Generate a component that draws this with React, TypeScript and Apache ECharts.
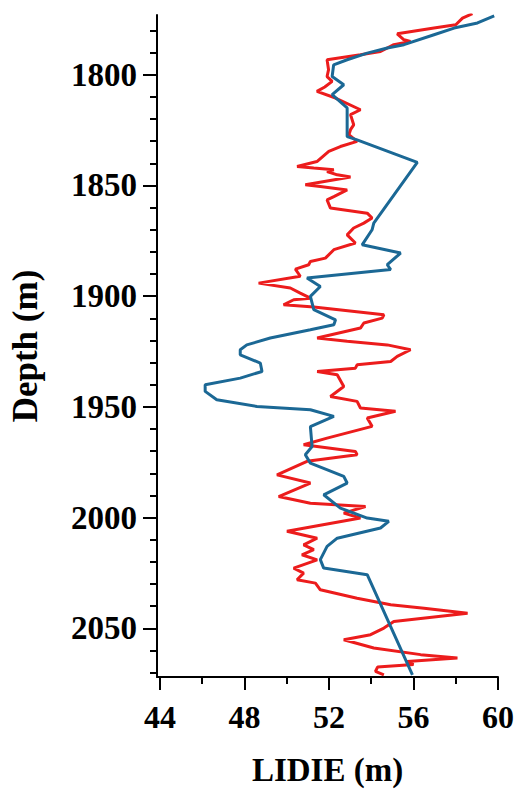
import React, { useEffect, useRef } from "react";
import * as echarts from "echarts";

const redDepth = [
  1772.4, 1774.4, 1777.4, 1778.9, 1781.5, 1784.2, 1784.9, 1786.4, 1789.5, 1791.0,
  1793.2, 1797.7, 1800.8, 1803.0, 1805.5, 1807.5, 1810.5, 1815.8, 1818.0, 1822.6,
  1824.8, 1827.1, 1830.1, 1832.4, 1834.6, 1839.2, 1841.4, 1842.1, 1842.9, 1843.7,
  1845.2, 1846.2, 1849.7, 1850.5, 1852.0, 1855.0, 1856.5, 1860.2, 1862.5, 1864.7,
  1867.0, 1869.2, 1872.3, 1876.0, 1879.0, 1882.8, 1884.3, 1885.8, 1887.8, 1891.0,
  1894.1, 1896.3, 1898.6, 1900.9, 1901.6, 1903.9, 1904.9, 1908.4, 1909.9, 1912.1,
  1914.4, 1918.9, 1920.4, 1922.0, 1924.2, 1927.2, 1929.5, 1931.0, 1932.5, 1934.0,
  1935.5, 1940.8, 1945.3, 1947.5, 1950.5, 1952.0, 1955.0, 1958.8, 1964.1, 1967.1,
  1970.1, 1971.6, 1974.6, 1980.7, 1984.4, 1990.5, 1993.5, 1995.0, 1998.0, 2000.2,
  2006.2, 2009.3, 2012.3, 2014.5, 2016.8, 2019.1, 2022.8, 2025.1, 2028.1, 2029.6,
  2032.6, 2036.4, 2039.4, 2040.9, 2043.2, 2046.9, 2049.9, 2052.9, 2055.2, 2058.9,
  2061.9, 2063.4, 2065.0, 2066.4, 2067.5, 2069.5, 2071.0,
];
const redLidie = [
  58.79, 58.32, 58.0, 56.97, 55.23, 55.55, 55.86, 55.07, 54.44, 53.49,
  51.91, 51.98, 51.91, 52.15, 51.8, 51.43, 52.31, 53.49, 53.02, 53.17,
  53.02, 52.94, 53.33, 52.54, 51.99, 51.43, 50.49, 51.28, 52.23, 51.91,
  52.39, 53.02, 50.88, 51.59, 52.86, 52.23, 51.91, 52.07, 53.81, 54.04,
  53.65, 53.17, 52.86, 53.25, 52.23, 51.83, 51.12, 51.04, 50.41, 50.64,
  48.67, 50.17, 50.64, 51.12, 50.33, 49.85, 51.28, 54.6, 54.52, 53.65,
  53.49, 51.44, 52.86, 54.76, 55.86, 55.23, 54.92, 53.33, 53.25, 51.44,
  52.39, 52.7, 52.07, 53.33, 53.49, 55.15, 53.81, 54.04, 51.91, 50.8,
  53.25, 53.33, 50.96, 49.54, 51.12, 49.62, 51.12, 53.73, 52.7, 53.49,
  50.01, 51.44, 50.8, 51.28, 50.72, 51.44, 50.33, 50.8, 50.49, 51.36,
  51.59, 53.33, 54.92, 56.5, 58.56, 55.07, 54.6, 53.97, 52.7, 54.12,
  56.34, 58.08, 55.7, 56.0, 54.3, 54.2, 54.6,
];

const blueDepth = [
  1773.4, 1776.6, 1778.9, 1781.9, 1786.4, 1787.9, 1790.2, 1793.2, 1795.5, 1800.8,
  1804.5, 1809.0, 1815.0, 1820.3, 1827.9, 1829.4, 1839.6, 1867.0, 1870.0, 1876.8,
  1880.5, 1885.8, 1888.0, 1891.8, 1895.6, 1900.1, 1906.1, 1910.7, 1912.9, 1915.2,
  1918.9, 1922.0, 1924.2, 1926.5, 1930.2, 1934.0, 1937.0, 1940.0, 1943.0, 1946.8,
  1949.8, 1951.3, 1954.3, 1958.9, 1967.9, 1971.6, 1975.4, 1981.4, 1984.4, 1989.7,
  1995.7, 2000.2, 2001.7, 2004.7, 2009.3, 2013.0, 2019.0, 2022.8, 2025.8, 2071.0,
];
const blueLidie = [
  59.82, 59.03, 57.92, 56.97, 55.55, 54.76, 53.81, 52.86, 52.22, 52.15,
  52.7, 52.15, 52.86, 52.86, 52.86, 53.33, 56.18, 54.12, 54.04, 53.57,
  55.39, 54.76, 54.92, 50.96, 51.59, 51.12, 51.28, 52.31, 52.23, 51.12,
  49.22, 48.11, 47.8, 47.8, 48.75, 48.83, 47.8, 46.14, 46.14, 46.69,
  48.59, 51.12, 52.23, 51.12, 51.2, 50.88, 51.12, 52.7, 52.86, 51.75,
  52.54, 53.81, 54.83, 54.44, 52.39, 51.91, 51.59, 51.75, 53.81, 55.95,
];

const xMajor = [44, 48, 52, 56, 60];
const xMinor = [46, 50, 54, 58];
const yMajor = [1800, 1850, 1900, 1950, 2000, 2050];
const yMinor = [1780, 1790, 1810, 1820, 1830, 1840, 1860, 1870, 1880, 1890, 1910, 1920, 1930, 1940, 1960, 1970, 1980, 1990, 2010, 2020, 2030, 2040, 2060, 2070];

const FONT = "'Liberation Serif', 'Times New Roman', serif";

export default function App() {
  const ref = useRef<HTMLDivElement>(null);
  useEffect(() => {
    if (!ref.current) return;
    const chart = echarts.init(ref.current, null, { renderer: "svg" });
    const xMin = 43.86, xMax = 60, yMin = 1773, yMax = 2072;
    const labelBase = { fontFamily: FONT, fontWeight: "bold" as const, color: "#000" };
    const tickLine = { color: "#000", width: 2 };
    const plain = (v: number) => String(v);
    chart.setOption({
      animation: false,
      backgroundColor: "#fff",
      grid: { left: 157, right: 22, top: 15, bottom: 114 },
      xAxis: [
        {
          type: "value", min: xMin, max: xMax, position: "bottom",
          axisLine: { onZero: false, lineStyle: { color: "#000", width: 2 } },
          axisTick: { length: 13, customValues: xMajor, lineStyle: tickLine },
          axisLabel: { customValues: xMajor, margin: 24, formatter: plain, fontSize: 32, ...labelBase },
          splitLine: { show: false },
          name: "LIDIE (m)", nameLocation: "middle", nameGap: 76,
          nameTextStyle: { fontFamily: FONT, fontWeight: "bold", fontSize: 33, color: "#000" },
        },
        {
          type: "value", min: xMin, max: xMax, position: "bottom",
          axisLine: { show: false, onZero: false },
          axisTick: { length: 7, customValues: xMinor, lineStyle: tickLine },
          axisLabel: { show: false },
          splitLine: { show: false },
        },
      ],
      yAxis: [
        {
          type: "value", inverse: true, min: yMin, max: yMax, position: "left",
          axisLine: { onZero: false, lineStyle: { color: "#000", width: 2 } },
          axisTick: { length: 14, customValues: yMajor, lineStyle: tickLine },
          axisLabel: { customValues: yMajor, margin: 20, formatter: plain, fontSize: 33, ...labelBase },
          splitLine: { show: false },
          name: "Depth (m)", nameLocation: "middle", nameGap: 114,
          nameTextStyle: { fontFamily: FONT, fontWeight: "bold", fontSize: 35, color: "#000" },
        },
        {
          type: "value", inverse: true, min: yMin, max: yMax, position: "left",
          axisLine: { show: false, onZero: false },
          axisTick: { length: 7, customValues: yMinor, lineStyle: tickLine },
          axisLabel: { show: false },
          splitLine: { show: false },
        },
      ],
      series: [
        {
          type: "line", xAxisIndex: 0, yAxisIndex: 0, showSymbol: false, symbol: "none",
          lineStyle: { color: "#ec1c1c", width: 3 },
          data: redDepth.map((d, i) => [redLidie[i], d]),
        },
        {
          type: "line", xAxisIndex: 0, yAxisIndex: 0, showSymbol: false, symbol: "none",
          lineStyle: { color: "#1b6895", width: 3 },
          data: blueDepth.map((d, i) => [blueLidie[i], d]),
        },
      ],
    });
    return () => chart.dispose();
  }, []);
  return (
    <div
      ref={ref}
      style={{ position: "fixed", left: 0, top: 0, width: 520, height: 791, background: "#fff" }}
    />
  );
}
